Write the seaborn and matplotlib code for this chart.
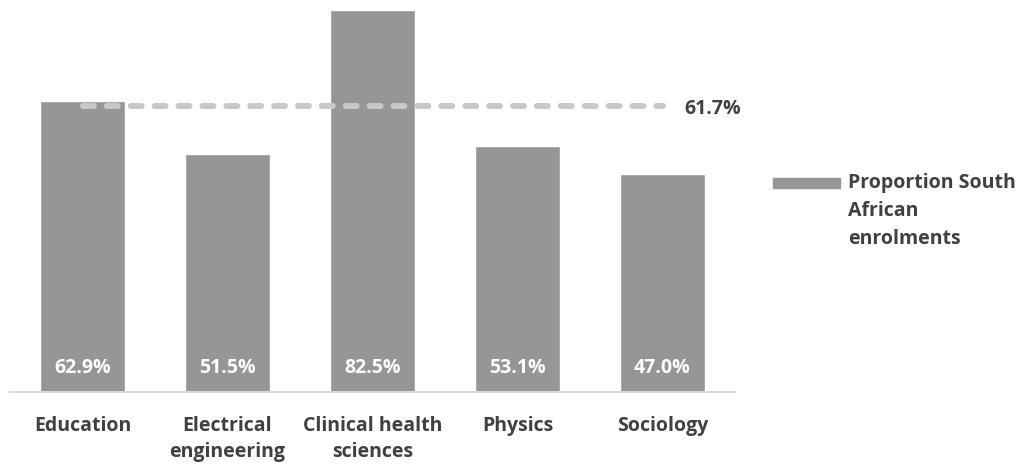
import matplotlib
matplotlib.use("Agg")
import matplotlib.pyplot as plt
from matplotlib.patches import Rectangle
import seaborn as sns

categories = ["Education", "Electrical\nengineering", "Clinical health\nsciences", "Physics", "Sociology"]
values = [62.9, 51.5, 82.5, 53.1, 47.0]
average = 61.7
series_name = "Proportion South\nAfrican\nenrolments"

BAR = "#969696"
AVG = "#c8c8c8"
TXT = "#404040"

sns.set_theme(style="white")
plt.rcParams["font.family"] = ["Open Sans", "DejaVu Sans"]
plt.rcParams["font.weight"] = "bold"

FS = 14

fig = plt.figure(figsize=(10.25, 4.66), dpi=100)
ax = fig.add_axes([10 / 1025, 74 / 466, 725 / 1025, 392 / 466])

sns.barplot(x=list(range(len(values))), y=values, color=BAR, width=0.59,
            saturation=1, ax=ax, native_scale=True)

xs = list(range(len(values)))
ax.plot(xs, [average] * len(xs), color=AVG, lw=4.3, dashes=(1.83, 2.17),
        dash_capstyle="round", solid_capstyle="round", zorder=3)
ax.annotate(f"{average:.1f}%", xy=(xs[-1], average), xytext=(22, -3),
            textcoords="offset pixels", ha="left", va="center",
            fontsize=FS, fontweight="bold", color=TXT)

for x, v in zip(xs, values):
    ax.annotate(f"{v:.1f}%", xy=(x, 0), xytext=(0, 24), textcoords="offset pixels",
                ha="center", va="center", fontsize=FS, fontweight="bold", color="white")

ax.set_xlim(-0.5, len(values) - 0.5)
ax.set_ylim(0, 84.7)
ax.set_xticks(xs)
ax.set_xticklabels(categories, fontsize=FS, fontweight="bold", color=TXT, linespacing=1.44)
ax.tick_params(axis="x", length=0, pad=17)
ax.set_yticks([])
ax.set_xlabel("")
ax.set_ylabel("")
for side in ["top", "left", "right"]:
    ax.spines[side].set_visible(False)
ax.spines["bottom"].set_color("#d9d9d9")
ax.spines["bottom"].set_linewidth(1.5)

# legend entry
fig.patches.append(Rectangle((773 / 1025, 1 - 188 / 466), 67 / 1025, 10 / 466,
                             transform=fig.transFigure, color=BAR))
fig.text(848 / 1025, 1 - 173 / 466, series_name, ha="left", va="top",
         fontsize=FS, fontweight="bold", color=TXT, linespacing=1.52)

fig.savefig("out.png", dpi=100)
